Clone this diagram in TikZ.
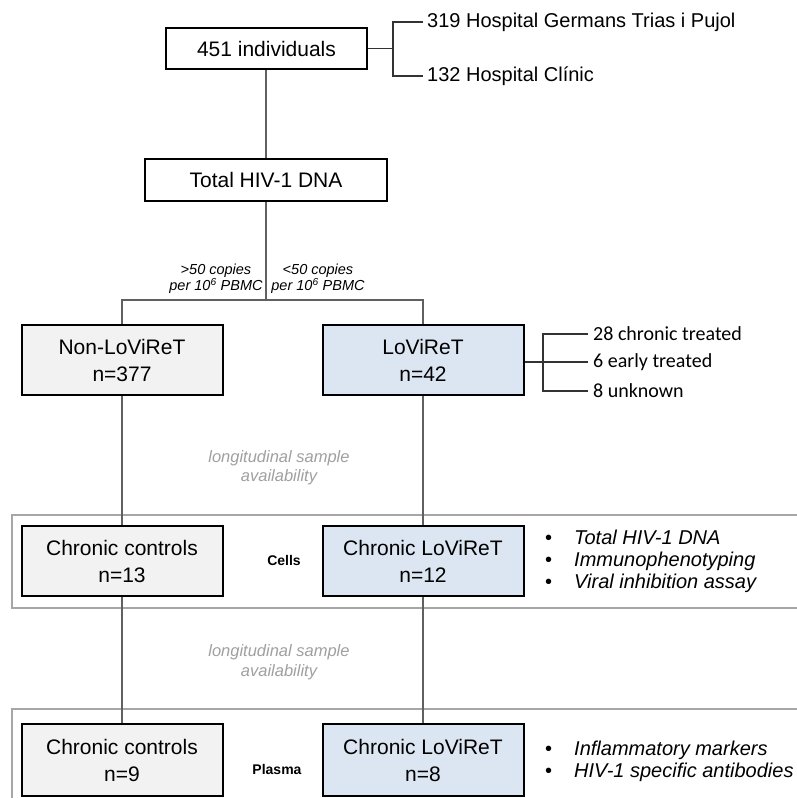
\documentclass[tikz,border=0pt]{standalone}
\usepackage{fontspec}
\setmainfont{Liberation Sans}
\newfontfamily\calibrifam{Carlito}
\definecolor{boxgrey}{HTML}{F2F2F2}
\definecolor{boxblue}{HTML}{DCE6F2}
\definecolor{linkgrey}{HTML}{606060}
\definecolor{framegrey}{HTML}{A6A6A6}
\definecolor{notegrey}{HTML}{A0A0A0}
\begin{document}
\begin{tikzpicture}[x=1pt,y=-1pt,
  box/.style={draw=black, line width=2pt, minimum width=201pt, minimum height=70pt,
    inner sep=0pt, align=center, font=\fontsize{21}{27}\selectfont},
  greybox/.style={box, fill=boxgrey},
  bluebox/.style={box, fill=boxblue},
  link/.style={draw=linkgrey, line width=1.3pt},
  brace/.style={draw=black!80, line width=1.2pt},
  frame/.style={draw=framegrey, line width=2pt},
  side/.style={anchor=west, inner sep=4pt, font=\fontsize{20}{24}\selectfont},
  subgroup/.style={anchor=west, inner sep=5pt, font=\calibrifam\fontsize{20}{24}\selectfont},
  cutoff/.style={align=center, inner sep=0pt, font=\itshape\fontsize{14.5}{16}\selectfont},
  note/.style={align=center, inner sep=0pt, text=notegrey, font=\itshape\fontsize{16.5}{19.5}\selectfont},
  tag/.style={inner sep=0pt, font=\bfseries\fontsize{14}{16}\selectfont},
  assays/.style={anchor=west, align=left, inner sep=0pt, font=\fontsize{20}{22}\selectfont},
]
\useasboundingbox (0,0) rectangle (796,798);
\fill[white] (0,0) rectangle (796,798);

% sample frames (open to the right)
\draw[frame] (800,515) -- (12,515) -- (12,608) -- (800,608);
\draw[frame] (800,709) -- (12,709) -- (12,802);

% main boxes
\node[box, minimum height=41pt] (all) at (266.5,48.5) {451 individuals};
\node[box, minimum width=242pt, minimum height=42pt] (total) at (266,180) {Total HIV-1 DNA};
\node[greybox] (non) at (122,360) {Non-LoViReT\\n=377};
\node[bluebox] (lov) at (423,360) {LoViReT\\n=42};
\node[greybox] (cc1) at (122,561) {Chronic controls\\n=13};
\node[bluebox] (cl1) at (423,561) {Chronic LoViReT\\n=12};
\node[greybox, minimum height=72pt] (cc2) at (122,760) {Chronic controls\\n=9};
\node[bluebox, minimum height=72pt] (cl2) at (423,760) {Chronic LoViReT\\n=8};

% hospitals
\node[side] (h1) at (423,22) {319 Hospital Germans Trias i Pujol};
\node[side] (h2) at (423,76) {132 Hospital Clínic};
\coordinate (hb) at (393,48.5);
\draw[brace] (all.east) -- (hb) (h1.west) -| (hb |- h2.west) -- (h2.west);

% LoViReT subgroups
\node[subgroup] (s1) at (588,334) {28 chronic treated};
\node[subgroup] (s2) at (588,362) {6 early treated};
\node[subgroup] (s3) at (588,391) {8 unknown};
\coordinate (lb) at (543,360);
\draw[brace] (lov.east |- s2.west) -- (s2.west) (s1.west) -| (lb |- s3.west) -- (s3.west);

% flow connectors
\coordinate (split) at (266,300);
\draw[link] (all.south -| total.north) -- (total.north);
\draw[link] (total.south) -- (split);
\draw[link] (non.north) -- (non.north |- split) -- (lov.north |- split) -- (lov.north);
\draw[link] (non.south) -- (cc1.north);
\draw[link] (lov.south) -- (cl1.north);
\draw[link] (cc1.south) -- (cc2.north);
\draw[link] (cl1.south) -- (cl2.north);

% cut-off labels
\node[cutoff] (gt) at (216,279) {>50 copies\\per 10\textsuperscript{6} PBMC};
\node[cutoff] (lt) at (318,279) {<50 copies\\per 10\textsuperscript{6} PBMC};

% sample availability notes
\node[note] (av1) at (279,467.5) {longitudinal sample\\availability};
\node[note] (av2) at (279,662) {longitudinal sample\\availability};

% sample type tags
\node[tag] (cells) at (284,560) {Cells};
\node[tag] (plasma) at (277,769) {Plasma};

% assays
\node[assays] (a1) at (545,561) {\makebox[29pt][l]{•}\textit{Total HIV-1 DNA}\\
  \makebox[29pt][l]{•}\textit{Immunophenotyping}\\
  \makebox[29pt][l]{•}\textit{Viral inhibition assay}};
\node[assays] (a2) at (545,761) {\makebox[29pt][l]{•}\textit{Inflammatory markers}\\
  \makebox[29pt][l]{•}\textit{HIV-1 specific antibodies}};
\end{tikzpicture}
\end{document}
